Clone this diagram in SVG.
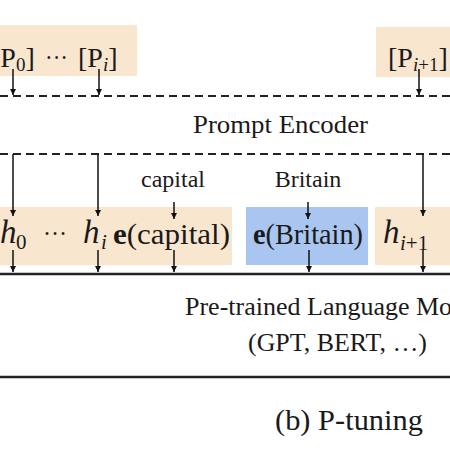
<svg xmlns="http://www.w3.org/2000/svg" width="450" height="450" viewBox="0 0 450 450">
  <defs>
    <marker id="ah" viewBox="0 0 10 10" refX="10" refY="5" markerWidth="6" markerHeight="6" markerUnits="userSpaceOnUse" orient="auto">
      <path d="M0,0 L10,5 L0,10 z" fill="#111"/>
    </marker>
    <style>
      .t { font-family: "Liberation Serif", "Times New Roman", serif; fill: #1a1a1a; }
      .it { font-style: italic; }
      .b { font-weight: bold; }
      .peach { fill: #f9e6cf; }
      .blue { fill: #a9c6f0; }
      .dash { stroke: #222; stroke-width: 2; stroke-dasharray: 8 5; fill: none; }
      .solid { stroke: #222; stroke-width: 2.5; fill: none; }
      .arr { stroke: #111; stroke-width: 1.5; fill: none; marker-end: url(#ah); }
    </style>
  </defs>
  <rect width="450" height="450" fill="#ffffff"/>

  <g id="prompt-tokens-left">
    <rect class="peach" x="0" y="25" width="137" height="51"/>
    <text class="t" x="-9" y="67" font-size="28">[P<tspan font-size="19" dy="4">0</tspan><tspan dy="-4">]</tspan></text>
    <text class="t" x="45" y="66" font-size="26" textLength="23" lengthAdjust="spacingAndGlyphs">···</text>
    <text class="t" x="78" y="67" font-size="28">[P<tspan class="it" font-size="19" dy="4">i</tspan><tspan dy="-4">]</tspan></text>
  </g>

  <g id="prompt-token-right">
    <rect class="peach" x="376" y="27" width="74" height="50"/>
    <text class="t" x="388" y="67" font-size="28">[P<tspan font-size="19" dy="4"><tspan class="it">i</tspan>+1</tspan><tspan dy="-4">]</tspan></text>
  </g>

  <g id="prompt-encoder">
    <line class="dash" x1="0" y1="96" x2="450" y2="96"/>
    <line class="dash" x1="0" y1="154" x2="450" y2="154"/>
    <text class="t" x="193" y="133" font-size="26" textLength="175" lengthAdjust="spacingAndGlyphs">Prompt Encoder</text>
  </g>

  <g id="input-words">
    <text class="t" x="173" y="187" font-size="24" text-anchor="middle">capital</text>
    <text class="t" x="308" y="187" font-size="24" text-anchor="middle">Britain</text>
  </g>

  <g id="embeddings-left">
    <rect class="peach" x="0" y="207" width="232" height="58"/>
    <text class="t it" x="0" y="243" font-size="33">h</text>
    <text class="t" x="16" y="249" font-size="21">0</text>
    <text class="t" x="43" y="242" font-size="26" textLength="24" lengthAdjust="spacingAndGlyphs">···</text>
    <text class="t it" x="83" y="243" font-size="33">h</text>
    <text class="t it" x="101" y="249" font-size="21">i</text>
    <text class="t" x="113" y="244" font-size="29" textLength="117" lengthAdjust="spacingAndGlyphs"><tspan class="b">e</tspan>(capital)</text>
  </g>

  <g id="embedding-britain">
    <rect class="blue" x="246" y="207" width="122" height="58"/>
    <text class="t" x="253" y="244" font-size="29" textLength="110" lengthAdjust="spacingAndGlyphs"><tspan class="b">e</tspan>(Britain)</text>
  </g>

  <g id="embedding-right">
    <rect class="peach" x="375" y="207" width="75" height="58"/>
    <text class="t it" x="383" y="243" font-size="33">h</text>
    <text class="t" x="400" y="250" font-size="21"><tspan class="it">i</tspan>+1</text>
  </g>

  <g id="language-model">
    <line class="solid" x1="0" y1="274" x2="450" y2="274"/>
    <text class="t" x="185" y="315" font-size="26">Pre-trained Language Model</text>
    <text class="t" x="248" y="351" font-size="25" textLength="179" lengthAdjust="spacingAndGlyphs">(GPT, BERT, …)</text>
    <line class="solid" x1="0" y1="377" x2="450" y2="377"/>
  </g>

  <g id="caption">
    <text class="t" x="275" y="430" font-size="30" textLength="148" lengthAdjust="spacingAndGlyphs">(b) P-tuning</text>
  </g>

  <g id="connectors">
    <line class="arr" x1="13" y1="69" x2="13" y2="95"/>
    <line class="arr" x1="99" y1="69" x2="99" y2="95"/>
    <line class="arr" x1="419" y1="69" x2="419" y2="95"/>
    <line class="arr" x1="13" y1="154" x2="13" y2="216"/>
    <line class="arr" x1="98" y1="154" x2="98" y2="216"/>
    <line class="arr" x1="423" y1="154" x2="423" y2="216"/>
    <line class="arr" x1="174" y1="202" x2="174" y2="219"/>
    <line class="arr" x1="308" y1="202" x2="308" y2="219"/>
    <line class="arr" x1="13" y1="250" x2="13" y2="272"/>
    <line class="arr" x1="98" y1="250" x2="98" y2="272"/>
    <line class="arr" x1="174" y1="250" x2="174" y2="272"/>
    <line class="arr" x1="309" y1="250" x2="309" y2="272"/>
    <line class="arr" x1="423" y1="250" x2="423" y2="272"/>
  </g>
</svg>
